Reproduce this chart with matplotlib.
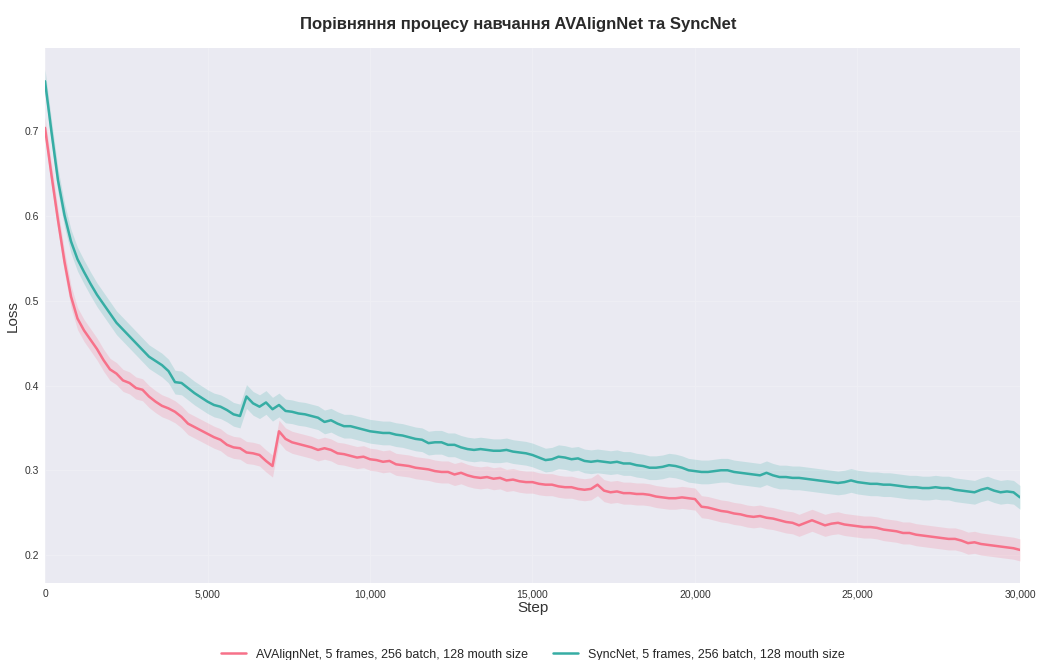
import numpy as np
import matplotlib
matplotlib.use("Agg")
import matplotlib.pyplot as plt
import matplotlib.ticker as mticker
import seaborn as sns

# training loss logged every 200 steps
steps = list(range(0, 30001, 200))

avalign_loss = [
    0.704, 0.648, 0.595, 0.546, 0.505, 0.479, 0.465, 0.454, 0.443, 0.430,
    0.419, 0.414, 0.406, 0.403, 0.397, 0.395, 0.387, 0.381, 0.376, 0.373,
    0.369, 0.363, 0.355, 0.351, 0.347, 0.343, 0.339, 0.336, 0.330, 0.327,
    0.326, 0.321, 0.320, 0.318, 0.311, 0.305, 0.346, 0.337, 0.333, 0.331,
    0.329, 0.327, 0.324, 0.326, 0.324, 0.320, 0.319, 0.317, 0.315, 0.316,
    0.313, 0.312, 0.310, 0.311, 0.307, 0.306, 0.305, 0.303, 0.302, 0.301,
    0.299, 0.298, 0.298, 0.295, 0.297, 0.294, 0.292, 0.291, 0.292, 0.290,
    0.291, 0.288, 0.289, 0.287, 0.286, 0.286, 0.284, 0.283, 0.283, 0.281,
    0.280, 0.280, 0.278, 0.277, 0.278, 0.283, 0.276, 0.274, 0.275, 0.273,
    0.273, 0.272, 0.272, 0.271, 0.269, 0.268, 0.267, 0.267, 0.268, 0.267,
    0.266, 0.257, 0.256, 0.254, 0.252, 0.251, 0.249, 0.248, 0.246, 0.245,
    0.246, 0.244, 0.243, 0.241, 0.239, 0.238, 0.235, 0.238, 0.241, 0.238,
    0.235, 0.237, 0.238, 0.236, 0.235, 0.234, 0.233, 0.233, 0.232, 0.230,
    0.229, 0.228, 0.226, 0.226, 0.224, 0.223, 0.222, 0.221, 0.220, 0.219,
    0.219, 0.217, 0.214, 0.215, 0.213, 0.212, 0.211, 0.210, 0.209, 0.208,
    0.206,
]

syncnet_loss = [
    0.759, 0.699, 0.642, 0.601, 0.570, 0.549, 0.534, 0.520, 0.507, 0.496,
    0.485, 0.474, 0.466, 0.458, 0.450, 0.442, 0.434, 0.429, 0.424, 0.417,
    0.404, 0.403, 0.397, 0.391, 0.386, 0.381, 0.377, 0.375, 0.371, 0.366,
    0.364, 0.387, 0.379, 0.375, 0.380, 0.372, 0.377, 0.370, 0.369, 0.367,
    0.366, 0.364, 0.362, 0.357, 0.359, 0.355, 0.352, 0.352, 0.350, 0.348,
    0.346, 0.345, 0.344, 0.344, 0.342, 0.341, 0.339, 0.337, 0.336, 0.332,
    0.333, 0.333, 0.330, 0.330, 0.327, 0.325, 0.324, 0.325, 0.324, 0.323,
    0.323, 0.324, 0.322, 0.321, 0.320, 0.318, 0.315, 0.312, 0.313, 0.316,
    0.315, 0.313, 0.314, 0.311, 0.310, 0.311, 0.310, 0.309, 0.310, 0.308,
    0.308, 0.306, 0.305, 0.303, 0.303, 0.304, 0.306, 0.305, 0.303, 0.300,
    0.299, 0.298, 0.298, 0.299, 0.300, 0.300, 0.298, 0.297, 0.296, 0.295,
    0.294, 0.297, 0.294, 0.292, 0.292, 0.291, 0.291, 0.290, 0.289, 0.288,
    0.287, 0.286, 0.285, 0.286, 0.288, 0.286, 0.285, 0.284, 0.284, 0.283,
    0.283, 0.282, 0.281, 0.280, 0.280, 0.279, 0.279, 0.280, 0.279, 0.279,
    0.277, 0.276, 0.275, 0.274, 0.277, 0.279, 0.276, 0.274, 0.275, 0.274,
    0.268,
]

# spread across runs (+/- band)
avalign_std = 0.013
syncnet_std = 0.014

labels = [
    "AVAlignNet, 5 frames, 256 batch, 128 mouth size",
    "SyncNet, 5 frames, 256 batch, 128 mouth size",
]

sns.set_style("darkgrid", {"grid.color": "#eeeef4"})
plt.rcParams["font.family"] = ["Liberation Sans", "DejaVu Sans"]
colors = sns.color_palette("husl", 2)

fig = plt.figure(figsize=(10.37, 6.6), dpi=100)
ax = fig.add_axes([0.0434, 0.1167, 0.9402, 0.8103])

for loss, std, color, label in [
    (avalign_loss, avalign_std, colors[0], labels[0]),
    (syncnet_loss, syncnet_std, colors[1], labels[1]),
]:
    loss = np.array(loss)
    ax.fill_between(steps, loss - std, loss + std, color=color, alpha=0.2, linewidth=0)
    ax.plot(steps, loss, color=color, linewidth=1.8, label=label)

ax.set_xlim(0, 30000)
ax.set_ylim(0.167, 0.798)
ax.xaxis.set_major_locator(mticker.MultipleLocator(5000))
ax.xaxis.set_major_formatter(mticker.StrMethodFormatter("{x:,.0f}"))
ax.yaxis.set_major_locator(mticker.MultipleLocator(0.1))
ax.yaxis.set_major_formatter(mticker.FormatStrFormatter("%.1f"))
ax.tick_params(labelsize=7.5, colors="#333333", pad=1)
for s in ax.spines.values():
    s.set_visible(False)

ax.set_xlabel("Step", fontsize=11, color="#333333", labelpad=1)
ax.set_ylabel("Loss", fontsize=11, color="#333333", labelpad=3)
fig.suptitle("Порівняння процесу навчання AVAlignNet та SyncNet",
             fontsize=12, fontweight="bold", color="#2a2a2a", y=0.975)

fig.legend(loc="lower center", bbox_to_anchor=(0.514, -0.018), ncol=2,
           frameon=False, fontsize=9, handlelength=2, columnspacing=2)

fig.savefig("out.png", dpi=100, facecolor="white")
